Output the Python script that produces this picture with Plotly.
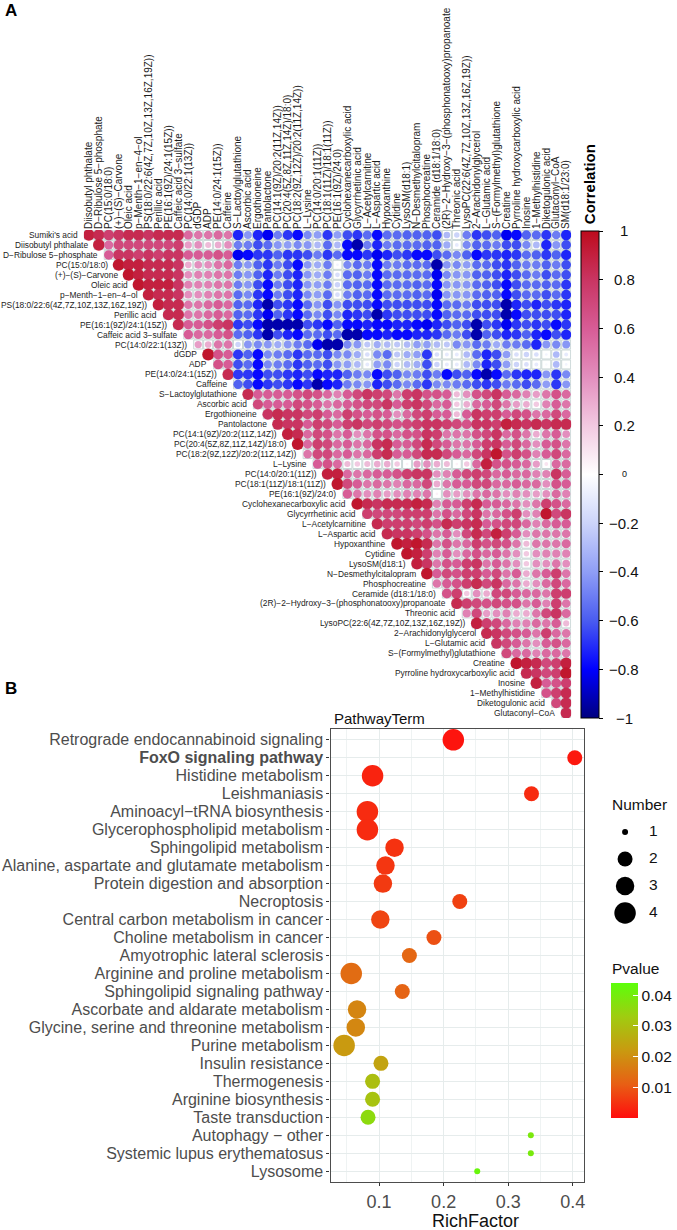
import plotly.graph_objects as go

W, H = 677, 1230
FONT = "Liberation Sans"

metabolites = [
 "Sumiki's acid","Diisobutyl phthalate","D−Ribulose 5−phosphate","PC(15:0/18:0)","(+)−(S)−Carvone","Oleic acid",
 "p−Menth−1−en−4−ol","PS(18:0/22:6(4Z,7Z,10Z,13Z,16Z,19Z))","Perillic acid","PE(16:1(9Z)/24:1(15Z))",
 "Caffeic acid 3−sulfate","PC(14:0/22:1(13Z))","dGDP","ADP","PE(14:0/24:1(15Z))","Caffeine","S−Lactoylglutathione",
 "Ascorbic acid","Ergothioneine","Pantolactone","PC(14:1(9Z)/20:2(11Z,14Z))","PC(20:4(5Z,8Z,11Z,14Z)/18:0)",
 "PC(18:2(9Z,12Z)/20:2(11Z,14Z))","L−Lysine","PC(14:0/20:1(11Z))","PC(18:1(11Z)/18:1(11Z))","PE(16:1(9Z)/24:0)",
 "Cyclohexanecarboxylic acid","Glycyrrhetinic acid","L−Acetylcarnitine","L−Aspartic acid","Hypoxanthine","Cytidine",
 "LysoSM(d18:1)","N−Desmethylcitalopram","Phosphocreatine","Ceramide (d18:1/18:0)",
 "(2R)−2−Hydroxy−3−(phosphonatooxy)propanoate","Threonic acid","LysoPC(22:6(4Z,7Z,10Z,13Z,16Z,19Z))",
 "2−Arachidonylglycerol","L−Glutamic acid","S−(Formylmethyl)glutathione","Creatine","Pyrroline hydroxycarboxylic acid",
 "Inosine","1−Methylhistidine","Diketogulonic acid","Glutaconyl−CoA","SM(d18:1/23:0)"]

# correlation x100; row n holds its values against every metabolite listed after it
corr_rows = [
 [90,85,75,80,85,85,80,85,85,85, 55,50,50,55,50, -72,-42,-72,-82,-50,-68,-78,-46,-40,-68, -40,-63,-68,-55,-78,-55,-55,-58,-58,-58, -63,-30,-20,-50,-68,-63,-58, -82,-78,-58,-55,-68,-50,-72],
 [90,55,70,70,70,70,70,70,75, 35,40,25,30,40, -50,-50,-63,-55,-42,-40,-46,-42,-30,-55, -30,-78,-93,-50,-72,-50,-55,-55,-55,-58, -58,-35,-10,-46,-58,-55,-50, -63,-63,-46,-30,-72,-42,-63],
 [60,80,80,75,80,75,80,80, 60,60,60,65,60, -82,-78,-68,-68,-58,-68,-68,-63,-50,-68, -55,-78,-78,-68,-82,-72,-63,-68,-78,-78, -63,-55,-46,-58,-78,-68,-68, -72,-68,-55,-58,-68,-58,-72],
 [95,90,90,85,85,85,80, 30,40,40,50,55, -50,-42,-58,-68,-50,-63,-78,-42,-35,-50, -5,-46,-55,-50,-78,-50,-50,-55,-55,-55, -93,-42,-46,-40,-55,-55,-63, -68,-58,-50,-50,-58,-50,-63],
 [95,90,85,85,85,80, 40,45,45,50,50, -50,-42,-58,-72,-50,-63,-72,-42,-35,-50, -15,-55,-58,-50,-78,-55,-55,-55,-55,-55, -82,-46,-42,-42,-58,-58,-63, -72,-63,-55,-50,-63,-55,-63],
 [95,90,90,90,80, 45,45,45,50,50, -50,-42,-63,-78,-50,-63,-72,-42,-40,-50, -20,-55,-58,-55,-78,-55,-55,-55,-58,-55, -78,-42,-42,-42,-55,-58,-63, -78,-63,-55,-55,-58,-55,-68],
 [90,85,85,80, 40,40,45,50,50, -55,-46,-68,-78,-50,-63,-72,-46,-40,-55, -15,-50,-58,-55,-78,-55,-55,-55,-58,-55, -82,-42,-42,-42,-55,-58,-58, -78,-63,-55,-55,-63,-55,-68],
 [90,85,85, 50,50,55,60,55, -58,-55,-72,-93,-63,-68,-78,-55,-42,-63, -42,-63,-63,-63,-78,-63,-63,-63,-63,-63, -78,-55,-55,-50,-63,-63,-63, -93,-72,-63,-72,-63,-68,-72],
 [85,85, 50,50,55,60,55, -58,-55,-68,-82,-58,-68,-78,-55,-46,-63, -46,-72,-68,-63,-93,-68,-63,-63,-63,-63, -78,-58,-55,-55,-63,-63,-63, -93,-78,-63,-63,-63,-63,-72],
 [85, 60,60,65,75,80, -68,-63,-78,-93,-93,-93,-93,-63,-68,-78, -58,-78,-78,-72,-78,-78,-72,-72,-78,-82, -72,-63,-58,-63,-93,-63,-68, -82,-68,-63,-68,-63,-78,-68],
 [60,55,55,60,65, -55,-58,-68,-93,-63,-72,-78,-55,-55,-63, -55,-93,-93,-78,-78,-72,-78,-78,-72,-72, -68,-55,-50,-63,-93,-58,-63, -72,-68,-58,-72,-78,-63,-72],
 [35,30,50,50, -20,-42,-46,-42,-35,-42,-50,-55,-82,-93, -93,-46,-42,-25,-35,-30,-25,-30,-40,-40, -30,-25,-46,-42,-55,-50,-35, -50,-50,-55,-72,-42,-46,-42],
 [95,65,60, -68,-58,-78,-46,-50,-55,-68,-55,-55,-63, -46,-46,-35,-15,-46,-55,-25,-35,-40,-68, -15,-10,-10,-30,-55,-72,-63, -40,-15,-20,-15,-5,-30,-10],
 [65,60, -63,-55,-78,-46,-50,-55,-68,-58,-55,-63, -42,-40,-30,-10,-40,-46,-20,-30,-35,-63, -20,-10,-10,-30,-46,-72,-63, -40,-20,-15,-10,-3,-30,-5],
 [85, -68,-68,-78,-63,-63,-68,-72,-63,-78,-72, -72,-58,-50,-46,-78,-63,-58,-46,-50,-63, -50,-78,-63,-58,-78,-93,-78, -55,-68,-72,-72,-42,-68,-46],
 [-58,-63,-78,-68,-63,-68,-78,-68,-93,-78, -72,-50,-46,-42,-72,-63,-55,-46,-55,-68, -46,-46,-50,-55,-63,-68,-63, -50,-55,-63,-55,-40,-68,-42],
 [85,60,60,60,60,65,70,65,55, 45,60,70,80,75,70,50,75,80,65, 65,60,25,40,65,70,80, 60,55,45,35,50,65,55],
 [70,60,60,60,70,65,60,50, 55,60,65,70,70,80,60,75,80,70, 55,60,20,30,55,60,70, 50,35,30,20,45,60,50],
 [80,85,80,80,70,75,60, 55,75,65,60,65,60,40,55,70,75, 60,60,25,60,80,75,75, 60,70,65,50,55,70,55],
 [85,80,80,60,75,70, 60,75,80,70,75,70,65,70,75,80, 80,75,70,65,80,80,75, 90,85,80,85,80,85,85],
 [90,85,55,70,65, 50,60,40,50,65,65,55,65,65,80, 75,50,50,50,65,70,80, 55,65,50,30,50,60,40],
 [95,55,75,70, 55,60,50,55,80,85,60,60,70,85, 70,60,50,50,60,75,80, 60,70,55,40,60,65,50],
 [50,70,70, 55,60,50,55,75,85,60,60,70,85, 85,70,60,55,70,80,95, 65,75,65,45,60,70,55],
 [60,65, 55,25,20,25,30,30,20,5,35,40, 30,25,5,20,55,90,65, 65,60,55,35,10,55,55],
 [90, 90,55,50,55,60,60,65,75,80,80, 40,45,60,70,75,70,55, 60,55,55,45,45,80,60],
 [95,70,60,50,55,50,45,55,55,70, 30,50,60,60,70,70,55, 55,60,55,55,40,65,60],
 [60,50,40,45,35,40,45,45,50, 5,40,35,40,50,55,50, 40,45,40,35,40,55,45],
 [95,85,80,85,85,85,90,85, 45,60,60,75,85,60,60, 55,50,40,50,75,65,55],
 [75,70,70,70,75,75,75, 50,65,55,70,80,50,55, 65,75,40,45,95,70,80],
 [85,75,75,75,70,75, 65,85,75,80,85,60,65, 70,70,55,45,55,60,60],
 [85,80,80,75,65, 50,60,40,70,85,70,90, 75,60,40,50,50,50,50],
 [95,90,95,85, 50,65,50,55,75,65,70, 65,50,25,50,50,50,55],
 [95,90,75, 45,60,40,55,65,55,60, 50,40,20,40,45,45,45],
 [90,80, 50,65,60,75,80,50,60, 50,40,20,40,40,50,40],
 [95, 60,70,65,75,75,60,70, 50,60,30,50,60,75,50],
 [50,60,65,75,85,70,80, 55,50,30,40,55,70,55],
 [65,75,20,40,30,70, 70,60,55,55,50,75,75],
 [85,75,70,65,70, 65,65,50,60,45,75,50],
 [45,70,35,40, 45,30,30,50,70,80,55],
 [90,75,70, 55,45,45,55,50,60,25],
 [85,80, 70,65,60,50,75,55,50],
 [80, 70,60,50,40,60,65,55],
 [70,55,55,45,55,55,50],
 [95,90,85,70,75,90],
 [85,80,70,75,95],
 [90,60,65,75],
 [65,75,85],
 [70,85],
 [85],
]

colorbar_ticks = [1, 0.8, 0.6, 0.4, 0.2, 0, -0.2, -0.4, -0.6, -0.8, -1]
corr_scale = [
 [0.0,"#00007f"],[0.1,"#0000ff"],[0.2,"#4a5cf0"],[0.3,"#8f9ef6"],[0.4,"#ccd4fa"],[0.5,"#ffffff"],
 [0.6,"#f2c9e1"],[0.7,"#e38fbe"],[0.8,"#d75c96"],[0.9,"#c93562"],[1.0,"#bd0b1c"]]

pathways = ["Retrograde endocannabinoid signaling","FoxO signaling pathway","Histidine metabolism","Leishmaniasis",
 "Aminoacyl−tRNA biosynthesis","Glycerophospholipid metabolism","Sphingolipid metabolism",
 "Alanine, aspartate and glutamate metabolism","Protein digestion and absorption","Necroptosis",
 "Central carbon metabolism in cancer","Choline metabolism in cancer","Amyotrophic lateral sclerosis",
 "Arginine and proline metabolism","Sphingolipid signaling pathway","Ascorbate and aldarate metabolism",
 "Glycine, serine and threonine metabolism","Purine metabolism","Insulin resistance","Thermogenesis",
 "Arginine biosynthesis","Taste transduction","Autophagy − other","Systemic lupus erythematosus","Lysosome"]
rich_factor = [0.215,0.403,0.090,0.336,0.082,0.082,0.124,0.110,0.106,0.225,0.102,0.185,0.147,0.057,0.136,0.066,0.064,0.046,0.103,0.090,0.090,0.083,0.335,0.335,0.252]
number = [4,2,4,2,4,4,3,3,3,2,3,2,2,4,2,3,3,4,2,2,2,2,1,1,1]
pvalue = [0.001,0.0015,0.003,0.004,0.004,0.004,0.005,0.0055,0.006,0.007,0.0075,0.009,0.0125,0.0135,0.012,0.018,0.0185,0.022,0.024,0.030,0.031,0.036,0.039,0.0395,0.042]
number_sizes = {1:6, 2:15, 3:18.5, 4:21.5}
p_scale = [[0,"#ff0d0d"],[0.25,"#e85f14"],[0.5,"#c99a10"],[0.75,"#a0cc10"],[1,"#5cff0a"]]

def px(x): return x / W
def py(y): return 1 - y / H

for i, r in enumerate(corr_rows):
    assert len(r) == 49 - i, (i, len(r))

xs, ys, vs = [], [], []
for i, r in enumerate(corr_rows):
    for k, v in enumerate(r):
        xs.append(i + k + 1)
        ys.append(i + 1)
        vs.append(v / 100)

fig = go.Figure()
# cell grid
fig.add_trace(go.Scatter(x=xs, y=ys, mode="markers", xaxis="x", yaxis="y", hoverinfo="skip", showlegend=False,
    marker=dict(symbol="square", size=9, color="white", opacity=1, line=dict(color="#c9d6d6", width=1))))
# correlation circles
fig.add_trace(go.Scatter(x=xs, y=ys, mode="markers", xaxis="x", yaxis="y", showlegend=False,
    marker=dict(symbol="circle", size=[max(2.5, 12.2 * abs(v) ** 0.5) for v in vs], color=vs, opacity=1,
                colorscale=corr_scale, cmin=-1, cmax=1, line=dict(width=0),
                colorbar=dict(x=px(581), xanchor="left", xpad=0, y=py(231), yanchor="top", ypad=0,
                              lenmode="pixels", len=487, thicknessmode="pixels", thickness=18,
                              outlinecolor="black", outlinewidth=1, ticks="outside", ticklen=4, tickcolor="black",
                              tickwidth=1, tickvals=colorbar_ticks, showticklabels=False))))
# pathway bubbles
fig.add_trace(go.Scatter(x=rich_factor, y=pathways, mode="markers", xaxis="x2", yaxis="y2", showlegend=False,
    marker=dict(size=[number_sizes[n] for n in number], color=pvalue, colorscale=p_scale, cmin=0, cmax=0.044,
                opacity=1, line=dict(width=0),
                colorbar=dict(x=px(611), xanchor="left", xpad=0, y=py(983), yanchor="top", ypad=0,
                              lenmode="pixels", len=135, thicknessmode="pixels", thickness=27,
                              outlinewidth=0, ticks="inside", ticklen=5, tickcolor="white", tickwidth=1,
                              tickvals=[0.01,0.02,0.03,0.04], ticktext=["0.01","0.02","0.03","0.04"],
                              tickfont=dict(family=FONT, size=15.5, color="#111")))))
# size legend
sizes = sorted(number_sizes)
fig.add_trace(go.Scatter(x=[0]*4, y=sizes, mode="markers", xaxis="x3", yaxis="y3", showlegend=False, hoverinfo="skip",
    marker=dict(color="black", opacity=1, size=[number_sizes[s] for s in sizes], line=dict(width=0))))
fig.add_trace(go.Scatter(x=[1]*4, y=sizes, mode="text", text=[str(s) for s in sizes], textposition="middle right",
    xaxis="x3", yaxis="y3", showlegend=False, hoverinfo="skip",
    textfont=dict(family=FONT, size=15.5, color="#111")))

ann = []
for i, name in enumerate(metabolites[:-1]):
    ann.append(dict(x=i + 0.5, y=i + 1, xref="x", yref="y", text=name, showarrow=False, xanchor="right", yanchor="middle",
                    xshift=-5, borderpad=0, font=dict(family=FONT, size=8.4, color="#1c1c1c")))
for v in colorbar_ticks:
    label_text = "0" if v == 0 else f"{v:g}".replace("-", "−")
    ann.append(dict(x=px(625), y=py(231 + (1 - v) / 2 * 487), xref="paper", yref="paper", text=label_text, showarrow=False,
                    xanchor="center", yanchor="middle", font=dict(family=FONT, size=9 if v == 0 else 15, color="#111")))
def label(x, y, text, size, bold=False, anchor="left", angle=0, color="black"):
    ann.append(dict(x=px(x), y=py(y), xref="paper", yref="paper", text=f"<b>{text}</b>" if bold else text, showarrow=False,
                    xanchor=anchor, yanchor="middle", textangle=angle, font=dict(family=FONT, size=size, color=color)))
label(3, 10, "A", 17, bold=True)
label(3, 688, "B", 17, bold=True)
label(590, 184, "Correlation", 15, bold=True, anchor="center", angle=-90)
label(332, 718, "PathwayTerm", 15, color="#111")
label(611, 804, "Number", 15.5, color="#111")
label(611, 968, "Pvalue", 15.5, color="#111")
label(476, 1221, "RichFactor", 18, anchor="center", color="#111")

fig.update_layout(
    width=W, height=H, autosize=False, margin=dict(l=0, r=0, t=0, b=0), paper_bgcolor="white", plot_bgcolor="white",
    annotations=ann, hovermode="closest",
    xaxis=dict(domain=[px(84), px(572)], anchor="y", range=[0.5, 49.5], side="top", tickmode="array",
               tickvals=list(range(1, 50)), ticktext=metabolites[1:], tickangle=-90, ticks="", showgrid=False,
               zeroline=False, showline=False, ticklabelstandoff=0,
               tickfont=dict(family=FONT, size=10, color="#1c1c1c")),
    yaxis=dict(domain=[py(718), py(230)], anchor="x", range=[49.5, 0.5], visible=False),
    xaxis2=dict(domain=[px(331), px(585)], anchor="y2", range=[0.0249, 0.4175], tickvals=[0.1,0.2,0.3,0.4],
                ticktext=["0.1","0.2","0.3","0.4"], ticks="outside", ticklen=3, tickcolor="#333", showline=True, mirror=True,
                linecolor="#4d4d4d", linewidth=1.3, showgrid=True, gridcolor="#e6ecec", gridwidth=1.2, zeroline=False,
                minor=dict(dtick=0.05, tick0=0, showgrid=True, gridcolor="#eff3f3", gridwidth=0.8),
                tickfont=dict(family=FONT, size=18, color="#4d4d4d")),
    yaxis2=dict(domain=[py(1182), py(729)], anchor="x2", type="category", categoryorder="array", categoryarray=pathways,
                range=[24.6, -0.6], tickmode="array", tickvals=pathways,
                ticktext=["<b>%s</b>" % p if p.startswith("FoxO") else p for p in pathways], ticks="outside", ticklen=3,
                tickcolor="#333", showline=True, mirror=True, linecolor="#4d4d4d", linewidth=1.3, showgrid=True,
                gridcolor="#e6ecec", gridwidth=1.2, zeroline=False,
                tickfont=dict(family=FONT, size=16, color="#4d4d4d")),
    xaxis3=dict(domain=[px(602), px(674)], anchor="y3", range=[-1, 2], visible=False),
    yaxis3=dict(domain=[py(926.5), py(818.5)], anchor="x3", range=[4.5, 0.5], visible=False),
)
fig.write_html("out.html", config=dict(displayModeBar=False),
               post_script="document.body.style.margin='0';")
